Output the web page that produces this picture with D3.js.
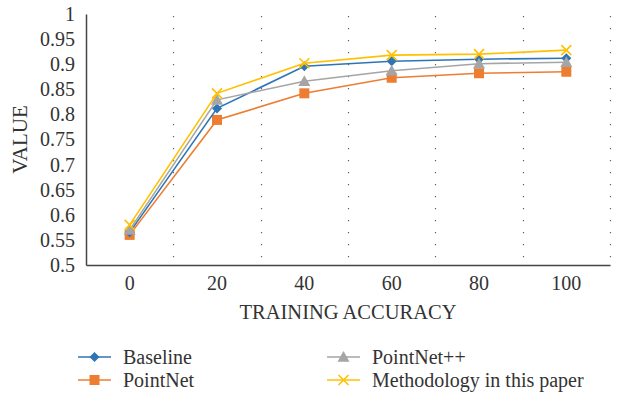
<!DOCTYPE html>
<html>
<head>
<meta charset="utf-8">
<script src="https://cdn.jsdelivr.net/npm/d3@7/dist/d3.min.js"></script>
<style>
  html, body { margin: 0; padding: 0; background: #fff; }
  svg { display: block; }
  text { font-family: "Liberation Serif", "DejaVu Serif", serif; fill: #333; }
</style>
</head>
<body>
<svg id="chart" width="625" height="402"></svg>
<script>
// Training accuracy steps on the x axis
const categories = [0, 20, 40, 60, 80, 100];
const yTicks = [0.5, 0.55, 0.6, 0.65, 0.7, 0.75, 0.8, 0.85, 0.9, 0.95, 1];

// One array of values per method
const baseline    = [0.565, 0.812, 0.896, 0.906, 0.910, 0.912];
const pointNet    = [0.560, 0.789, 0.842, 0.873, 0.882, 0.885];
const pointNetPP  = [0.570, 0.829, 0.866, 0.887, 0.901, 0.904];
const methodology = [0.580, 0.842, 0.902, 0.918, 0.920, 0.928];

const seriesNames = ["Baseline", "PointNet", "PointNet++", "Methodology in this paper"];
const seriesColors = ["#2E75B6", "#ED7D31", "#A5A5A5", "#FFC000"];
const seriesShapes = ["diamond", "square", "triangle", "cross"];
const seriesValues = [baseline, pointNet, pointNetPP, methodology];

const svg = d3.select("#chart");
const margin = { left: 86, right: 15, top: 14, bottom: 137 };
const W = 625, H = 402;

const x = d3.scaleBand()
  .domain(categories)
  .range([margin.left, W - margin.right])
  .paddingInner(0).paddingOuter(0);

const y = d3.scaleLinear()
  .domain([0.5, 1])
  .range([H - margin.bottom, margin.top]);

// Dotted vertical separators at the right edge of each category band
const grid = svg.append("g");
categories.forEach(c => {
  const gx = Math.round(x(c) + x.bandwidth()) + 0.5;
  grid.append("line")
    .attr("x1", gx).attr("x2", gx)
    .attr("y1", y(1) + 2).attr("y2", y(0.5))
    .attr("stroke", "#666")
    .attr("stroke-width", 1.2)
    .attr("stroke-dasharray", "1.2,10.8");
});

// Y axis
const yAxis = d3.axisLeft(y)
  .tickValues(yTicks)
  .tickSize(0)
  .tickPadding(11)
  .tickFormat(d => d3.format("")(+d.toFixed(2)));
const gy = svg.append("g")
  .attr("transform", `translate(${margin.left},0)`)
  .call(yAxis);
gy.select(".domain").attr("stroke", "#444").attr("stroke-width", 1.5);
gy.selectAll("text").attr("font-size", 20).attr("fill", "#333")
  .attr("font-family", '"Liberation Serif", serif');

// X axis
const xAxis = d3.axisBottom(x).tickSize(0).tickPadding(11);
const gx = svg.append("g")
  .attr("transform", `translate(0,${y(0.5)})`)
  .call(xAxis);
gx.select(".domain").attr("stroke", "#444").attr("stroke-width", 1.5);
gx.selectAll("text").attr("font-size", 20).attr("fill", "#333")
  .attr("font-family", '"Liberation Serif", serif');

// Axis titles
svg.append("text")
  .attr("x", (margin.left + W - margin.right) / 2)
  .attr("y", 319)
  .attr("text-anchor", "middle")
  .attr("font-size", 20.5)
  .text("TRAINING ACCURACY");

svg.append("text")
  .attr("transform", `translate(27,${(y(1) + y(0.5)) / 2}) rotate(-90)`)
  .attr("text-anchor", "middle")
  .attr("font-size", 21)
  .text("VALUE");

// Marker drawing helper
function drawMarker(g, shape, cx, cy, color) {
  if (shape === "diamond") {
    const s = 5;
    g.append("path")
      .attr("d", `M${cx},${cy - s}L${cx + s},${cy}L${cx},${cy + s}L${cx - s},${cy}Z`)
      .attr("fill", color);
  } else if (shape === "square") {
    const s = 5;
    g.append("rect")
      .attr("x", cx - s).attr("y", cy - s)
      .attr("width", 2 * s).attr("height", 2 * s)
      .attr("fill", color);
  } else if (shape === "triangle") {
    const s = 6;
    g.append("path")
      .attr("d", `M${cx},${cy - s}L${cx + s},${cy + s * 0.8}L${cx - s},${cy + s * 0.8}Z`)
      .attr("fill", color);
  } else if (shape === "cross") {
    const s = 5;
    g.append("path")
      .attr("d", `M${cx - s},${cy - s}L${cx + s},${cy + s}M${cx + s},${cy - s}L${cx - s},${cy + s}`)
      .attr("stroke", color).attr("stroke-width", 1.6).attr("fill", "none");
  }
}

const cx = c => x(c) + x.bandwidth() / 2;
const line = d3.line().x((d, i) => cx(categories[i])).y(d => y(d));

// Draw order: PointNet, Baseline, PointNet++, Methodology (top)
[1, 0, 2, 3].forEach(k => {
  const g = svg.append("g");
  g.append("path")
    .datum(seriesValues[k])
    .attr("d", line)
    .attr("fill", "none")
    .attr("stroke", seriesColors[k])
    .attr("stroke-width", 1.6);
  seriesValues[k].forEach((v, i) => drawMarker(g, seriesShapes[k], cx(categories[i]), y(v), seriesColors[k]));
});

// Legend
const legendPos = [[78, 357], [78, 380], [327, 357], [327, 380]];
seriesNames.forEach((name, k) => {
  const [lx, ly] = legendPos[k];
  const g = svg.append("g");
  g.append("line")
    .attr("x1", lx).attr("x2", lx + 33)
    .attr("y1", ly).attr("y2", ly)
    .attr("stroke", seriesColors[k]).attr("stroke-width", 1.6);
  drawMarker(g, seriesShapes[k], lx + 16.5, ly, seriesColors[k]);
  g.append("text")
    .attr("x", lx + 45).attr("y", ly + 6.5)
    .attr("font-size", 20)
    .text(name);
});
</script>
</body>
</html>
